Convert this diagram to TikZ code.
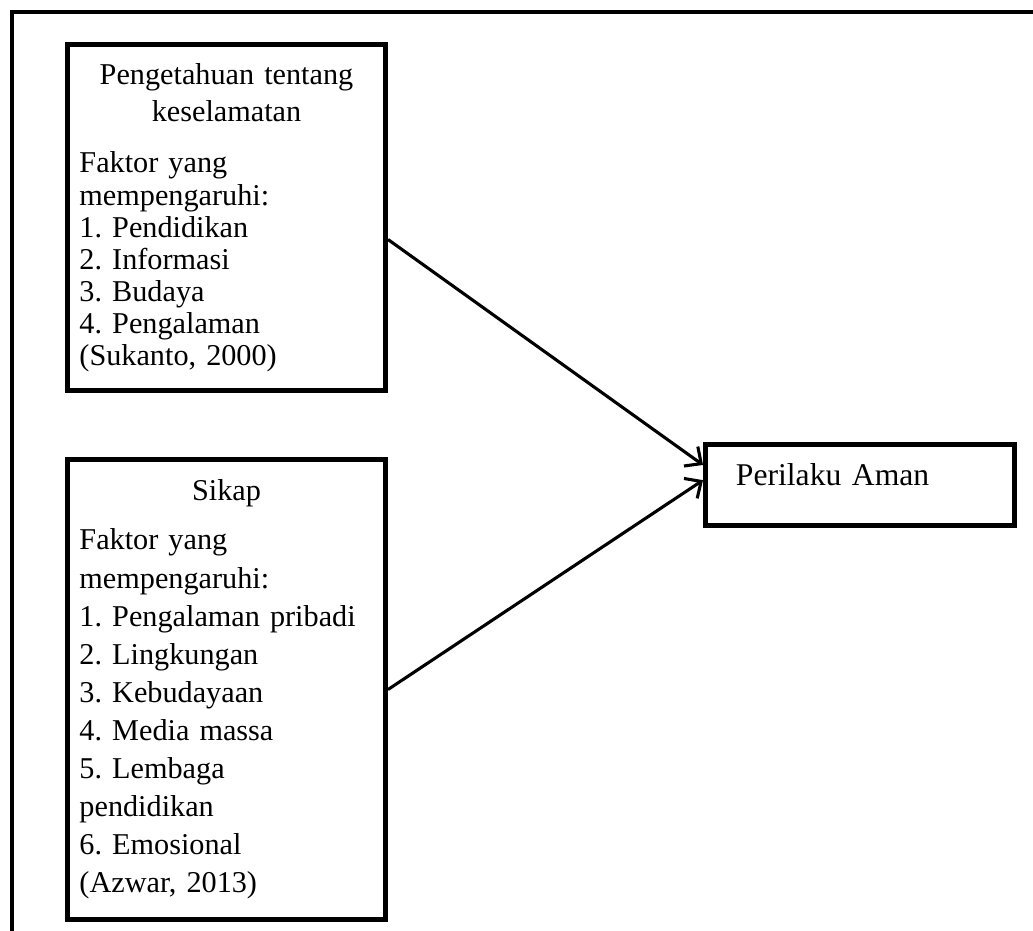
\documentclass[tikz,border=0pt]{standalone}
\usepackage{fontspec}
\setmainfont{Liberation Serif}
\usetikzlibrary{arrows.meta}
\frenchspacing

\begin{document}
\begin{tikzpicture}[x=0.025cm,y=-0.025cm,
        kotak/.style={draw, line width=3.5pt, anchor=north west, inner xsep=0.3cm,
            text width=7.35cm, align=left, font=\fontsize{21.5}{26.3}\selectfont},
        panah/.style={-{Straight Barb[length=9pt,width=17pt]}, line width=2.2pt}]
    % Ukuran halaman
    \useasboundingbox (0,0) rectangle (1033,931);

    % Bingkai luar
    \draw[line width=3.5pt] (12,931) -- (12,12) -- (1033,12);

    % Variabel bebas
    \node[kotak, minimum width=7.95cm, minimum height=8.65cm] (pengetahuan) at (65,42) {%
        {\centering Pengetahuan tentang\\ keselamatan\par}
        \vspace{14pt}
        {\fontsize{21.5}{22.8}\selectfont
        Faktor yang\\ mempengaruhi:\\ 1. Pendidikan\\ 2. Informasi\\ 3. Budaya\\
        4. Pengalaman\\ (Sukanto, 2000)\par}};
    \node[kotak, minimum width=7.95cm, minimum height=11.5cm,
        font=\fontsize{21.5}{27.1}\selectfont] (sikap) at (65,457) {%
        {\centering Sikap\par}
        \vspace{8pt}
        Faktor yang\\ mempengaruhi:\\ 1. Pengalaman pribadi\\ 2. Lingkungan\\
        3. Kebudayaan\\ 4. Media massa\\ 5. Lembaga\\ pendidikan\\ 6. Emosional\\
        (Azwar, 2013)};

    % Variabel terikat
    \node[kotak, minimum width=7.725cm, minimum height=2.025cm, inner xsep=0.72cm,
        text width=6.2cm, text depth=0.5cm, font=\fontsize{22.5}{27}\selectfont]
        (perilaku) at (703,442) {Perilaku Aman};

    % Panah
    \draw[panah] ([yshift=-0.55cm]pengetahuan.east) -- ([yshift=0.5cm]perilaku.west);
    \draw[panah] (sikap.east) -- ([yshift=0.12cm]perilaku.west);
\end{tikzpicture}
\end{document}
